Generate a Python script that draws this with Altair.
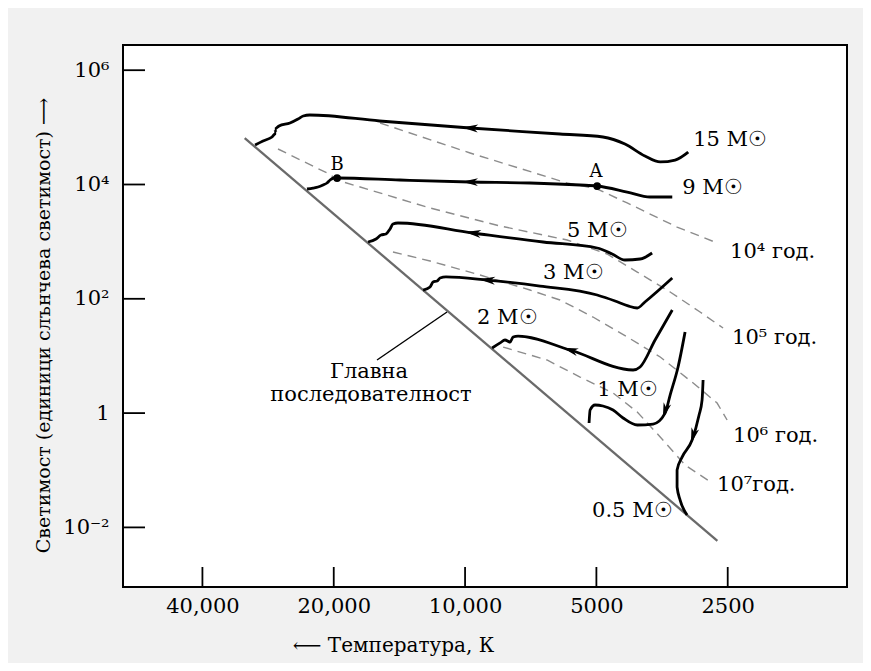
import altair as alt
import pandas as pd

# ---------------- data ----------------
T_TICKS = [40000, 20000, 10000, 5000, 2500]
L_TICKS = [1e6, 1e4, 1e2, 1, 1e-2]

MS_T = [32000, 2640]
MS_L = [6.5e4, 5.8e-3]

T15 = [30300, 29050, 27700, 27100, 27300, 26700, 25200, 24150, 23500, 22700, 15700, 9740, 6060, 4830, 4300, 3870, 3570, 3300, 3080]
L15 = [49100, 57700, 67800, 79600, 93600, 105600, 119200, 140000, 158000, 164500, 129200, 97400, 76500, 67800, 51100, 31500, 24800, 26800, 37000]

T9 = [23030, 22310, 21730, 21160, 20720, 20390, 19970, 19650, 14100, 9740, 7100, 5450, 4980, 4250, 3765, 3350]
L9 = [8340, 8680, 9040, 9800, 10620, 11990, 12990, 12990, 11990, 11060, 10620, 9800, 9410, 7390, 6040, 6040]

T5 = [16690, 16000, 15580, 15180, 14860, 14630, 14250, 9590, 6625, 4980, 4600, 4300, 3970, 3726]
L5 = [986, 1113, 1307, 1361, 1664, 2036, 2120, 1417, 986, 774, 608, 477, 497, 633]

T3 = [12480, 12030, 11840, 11590, 11410, 11060, 8900, 6730, 4980, 4530, 4230, 4030, 3870, 3350]
L3 = [142, 161, 197, 205, 231, 241, 213, 167, 116.5, 91.5, 75, 69, 88, 231]

T2 = [8670, 8310, 8100, 7885, 7760, 7560, 5744, 4120, 3970, 3668, 3350]
L2 = [13.8, 16.9, 19.0, 17.5, 21.4, 22.3, 12.7, 5.68, 6.41, 19.0, 63.7]

T1 = [3131, 3249, 3388, 3479, 3706, 4030, 4343, 4579, 4830, 5035, 5169, 5197]
L1 = [26.2, 6.41, 2.07, 1.00, 0.644, 0.619, 0.821, 1.133, 1.331, 1.386, 1.133, 0.671]

T05 = [2847, 2862, 2908, 3017, 3181, 3266, 3266, 3214, 3098]
L05 = [3.79, 1.70, 0.926, 0.338, 0.170, 0.101, 0.0509, 0.0301, 0.0165]

I4_T = [15660, 9740, 5836, 4980, 4250, 3266, 2644]
I4_L = [119200, 35600, 10620, 8340, 4750, 1800, 947]
I5_T = [26840, 20720, 19340, 12030, 8310, 5836, 4727, 4030, 3388, 2893, 2562]
I5_L = [41800, 15890, 11510, 3880, 1878, 1069, 608, 294, 131.5, 58.8, 30.8]
I6_T = [14630, 12030, 9240, 7100, 6060, 5090, 4250, 3570, 3000, 2644, 2508]
I6_L = [658, 459, 261, 142.5, 95.3, 48.0, 21.5, 9.59, 3.36, 1.50, 0.757]
I7_T = [8180, 6490, 5450, 4580, 4030, 3570, 3130, 2715]
I7_L = [14.3, 8.5, 4.28, 2.25, 1.045, 0.382, 0.1235, 0.0598]

LBL_TEXT = ["15 M☉", "9 M☉", "5 M☉", "3 M☉", "2 M☉", "1 M☉", "0.5 M☉",
            "10⁴ год.", "10⁵ год.", "10⁶ год.", "10⁷год."]
LBL_T = [3000, 3180, 5840, 6625, 9390, 4980, 5115, 2469, 2443, 2430, 2644]
LBL_L = [60000, 8680, 1536, 283, 46.1, 2.54, 0.0194, 658, 20.6, 0.397, 0.0552]

MS_TEXT = ["Главна", "последователност"]
MS_TEXT_T = [16600, 16430]
MS_TEXT_L = [5.24, 2.07]

PT_TEXT = ["A", "B"]
PT_TEXT_T = [5008, 19650]
PT_TEXT_L = [16550, 21940]
DOT_T = [4980, 19650]
DOT_L = [9410, 12990]

PTR_T = [15915, 11000]
PTR_L = [8.5, 58.75]

ARR_T = [9740, 9740, 9590, 8900, 5744, 3479, 3001]
ARR_L = [97400, 11060, 1417, 213, 12.7, 1.088, 0.397]
ARR_ANGLE = [4, 1, 7, 5, 16, 287, 286]

# ---------------- tables ----------------
def series(name, T, L):
    return pd.DataFrame({"T": T, "L": L, "s": name, "i": list(range(len(T)))})

tracks = pd.concat([series("15", T15, L15), series("9", T9, L9), series("5", T5, L5),
                    series("3", T3, L3), series("2", T2, L2), series("1", T1, L1),
                    series("0.5", T05, L05)])
isos = pd.concat([series("1e4", I4_T, I4_L), series("1e5", I5_T, I5_L),
                  series("1e6", I6_T, I6_L), series("1e7", I7_T, I7_L)])
ms = series("ms", MS_T, MS_L)
ptr = series("ptr", PTR_T, PTR_L)
labels = pd.DataFrame({"T": LBL_T, "L": LBL_L, "t": LBL_TEXT})
mstext = pd.DataFrame({"T": MS_TEXT_T, "L": MS_TEXT_L, "t": MS_TEXT})
ptext = pd.DataFrame({"T": PT_TEXT_T, "L": PT_TEXT_L, "t": PT_TEXT})
dots = pd.DataFrame({"T": DOT_T, "L": DOT_L})
arrows = pd.DataFrame({"T": ARR_T, "L": ARR_L, "a": ARR_ANGLE})
xt = pd.DataFrame({"T": T_TICKS})
yt = pd.DataFrame({"L": L_TICKS})

W, H = 724, 542
FONT = "DejaVu Serif"

xscale = alt.Scale(type="log", domain=[1332, 60830], reverse=True, nice=False)
yscale = alt.Scale(type="log", domain=[9.06e-4, 2.76e6], nice=False)

xaxis = alt.Axis(values=T_TICKS, ticks=False, domain=False, grid=False,
                 labelExpr="datum.value >= 10000 ? format(datum.value, ',') : format(datum.value, 'd')",
                 labelFont=FONT, labelFontSize=21, labelColor="black", labelPadding=8,
                 labelFlush=False, labelOverlap=False,
                 title="⟵ Температура, К", titleFont=FONT, titleFontSize=20,
                 titleFontWeight="normal", titleColor="black",
                 titleX=270, titleY=58, titleAlign="center", titleBaseline="middle")
yaxis = alt.Axis(values=L_TICKS, ticks=False, domain=False, grid=False,
                 labelExpr="datum.value >= 1e6 ? '10⁶' : datum.value >= 1e4 ? '10⁴' : datum.value >= 100 ? '10²' : datum.value >= 1 ? '1' : '10⁻²'",
                 labelFont=FONT, labelFontSize=21, labelColor="black", labelPadding=14,
                 labelFlush=False, labelOverlap=False,
                 title="Светимост (единици слънчева светимост) ⟶", titleFont=FONT,
                 titleFontSize=19, titleFontWeight="normal", titleColor="black",
                 titleAngle=270, titleX=-80, titleY=280, titleAlign="center",
                 titleBaseline="middle")

X = alt.X("T:Q", scale=xscale, axis=xaxis)
Y = alt.Y("L:Q", scale=yscale, axis=yaxis)

iso_layer = alt.Chart(isos).mark_line(color="#8c8c8c", strokeWidth=1.4,
                                      strokeDash=[9, 6]).encode(
    x=X, y=Y, detail="s:N", order="i:Q")
ms_layer = alt.Chart(ms).mark_line(color="#6a6a6a", strokeWidth=2.3).encode(
    x=X, y=Y, order="i:Q")
ptr_layer = alt.Chart(ptr).mark_line(color="black", strokeWidth=1.4).encode(
    x=X, y=Y, order="i:Q")
track_layer = alt.Chart(tracks).mark_line(color="black", strokeWidth=2.8,
                                          interpolate="monotone").encode(
    x=X, y=Y, detail="s:N", order="i:Q")

ARROW = "M -1 0 L 1 -0.5 L 0.45 0 L 1 0.5 Z"
arrow_layer = alt.Chart(arrows).mark_point(shape=ARROW, filled=True, color="black",
                                           opacity=1, size=250, strokeWidth=0).encode(
    x=X, y=Y, angle=alt.Angle("a:Q", scale=None))
dot_layer = alt.Chart(dots).mark_point(shape="circle", filled=True, color="black",
                                       opacity=1, size=60).encode(x=X, y=Y)

label_layer = alt.Chart(labels).mark_text(font=FONT, fontSize=21, align="left",
                                          baseline="middle", color="black").encode(
    x=X, y=Y, text="t:N")
ms_text_layer = alt.Chart(mstext).mark_text(font=FONT, fontSize=21, align="center",
                                            baseline="middle", color="black").encode(
    x=X, y=Y, text="t:N")
pt_text_layer = alt.Chart(ptext).mark_text(font=FONT, fontSize=18, align="center",
                                           baseline="middle", color="black").encode(
    x=X, y=Y, text="t:N")

xtick_layer = alt.Chart(xt).mark_rule(color="black", strokeWidth=1.8).encode(
    x=X, y=alt.value(H), y2=alt.value(H - 20))
ytick_layer = alt.Chart(yt).mark_rule(color="black", strokeWidth=1.8).encode(
    y=Y, x=alt.value(0), x2=alt.value(22))

chart = alt.layer(
    iso_layer, ms_layer, ptr_layer, track_layer, arrow_layer, dot_layer,
    label_layer, ms_text_layer, pt_text_layer, xtick_layer, ytick_layer
).properties(
    width=W, height=H,
    autosize=alt.AutoSizeParams(type="none"),
    padding={"left": 115, "top": 37, "right": 16, "bottom": 76},
    background="#f1f1f1",
).configure_view(stroke="black", strokeWidth=2, fill="white")

chart.save("out.html", embed_options={"renderer": "svg", "actions": False})
